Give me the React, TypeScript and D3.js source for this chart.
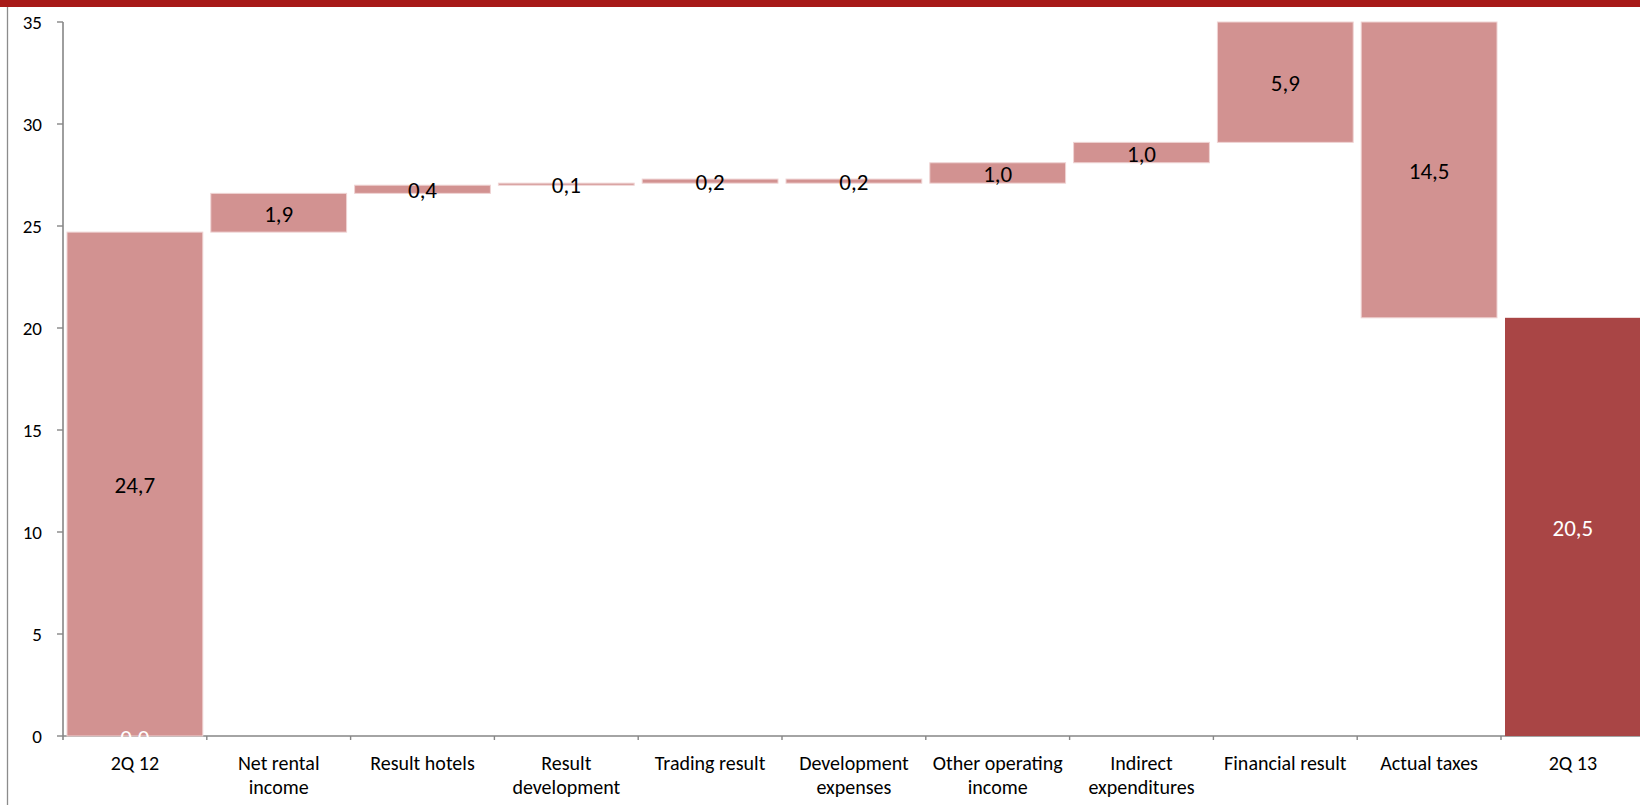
import React from "react";
import * as d3 from "d3";

// Bridge from 2Q 12 to 2Q 13 result (EUR m)
const categories: string[][] = [
  ["2Q 12"],
  ["Net rental", "income"],
  ["Result hotels"],
  ["Result", "development"],
  ["Trading result"],
  ["Development", "expenses"],
  ["Other operating", "income"],
  ["Indirect", "expenditures"],
  ["Financial result"],
  ["Actual taxes"],
  ["2Q 13"],
];
const deltas: number[] = [24.7, 1.9, 0.4, 0.1, 0.2, -0.2, 1.0, 1.0, 5.9, -14.5, 20.5];
const isTotal: boolean[] = [true, false, false, false, false, false, false, false, false, false, true];
const yTicks: number[] = [0, 5, 10, 15, 20, 25, 30, 35];

const W = 1640;
const H = 805;
const FONT = "Calibri, Carlito, Lato, 'Open Sans', sans-serif";

const axisLeft = 63;
const step = 143.8;
const x = d3
  .scaleBand<number>()
  .domain(d3.range(categories.length))
  .range([axisLeft, axisLeft + step * categories.length])
  .padding(0);
const y = d3.scaleLinear().domain([0, 35]).range([736, 22]);

const fmt = (v: number) => d3.format(".1f")(Math.abs(v)).replace(".", ",");

type Seg = { i: number; lo: number; hi: number; delta: number; total: boolean };
const segs: Seg[] = (() => {
  let run = 0;
  return deltas.map((d, i) => {
    if (isTotal[i]) {
      run = d;
      return { i, lo: 0, hi: d, delta: d, total: true };
    }
    const start = run;
    run = run + d;
    return { i, lo: Math.min(start, run), hi: Math.max(start, run), delta: d, total: false };
  });
})();

export default function App() {
  const inset = 4;
  const bw = x.bandwidth() - inset * 2;
  const last = categories.length - 1;
  return (
    <svg
      width={W}
      height={H}
      style={{ position: "absolute", left: 0, top: 0, background: "#fff" }}
      fontFamily={FONT}
    >
      {/* header band and left frame line */}
      <rect x={0} y={0} width={W} height={7} fill="#A71A18" />
      <line x1={7.5} x2={7.5} y1={7} y2={H} stroke="#8c8c8c" strokeWidth={1.3} />

      {/* y axis */}
      <line x1={axisLeft} x2={axisLeft} y1={y(35)} y2={y(0) + 4} stroke="#868686" strokeWidth={1.6} />
      {yTicks.map((t) => (
        <g key={t}>
          <line x1={axisLeft - 6} x2={axisLeft} y1={y(t)} y2={y(t)} stroke="#868686" strokeWidth={1.4} />
          <text x={42} y={y(t)} textAnchor="end" dominantBaseline="central" fontSize={19} fill="#000">
            {t}
          </text>
        </g>
      ))}

      {/* x axis */}
      <line x1={axisLeft} x2={W} y1={y(0)} y2={y(0)} stroke="#868686" strokeWidth={1.6} />
      {d3.range(1, categories.length).map((i) => (
        <line
          key={i}
          x1={x(i)!}
          x2={x(i)!}
          y1={y(0)}
          y2={y(0) + 4}
          stroke="#868686"
          strokeWidth={1.4}
        />
      ))}

      {/* bars */}
      {segs.map((s) => {
        const dark = s.i === last;
        return (
          <rect
            key={s.i}
            x={x(s.i)! + inset}
            y={y(s.hi)}
            width={bw}
            height={Math.max(y(s.lo) - y(s.hi), 1)}
            fill={dark ? "#A94545" : "#D29291"}
            stroke={dark ? "none" : "#EFD3D3"}
            strokeWidth={1}
          />
        );
      })}

      {/* hidden base label at the foot of the first bar */}
      <text
        x={x(0)! + x.bandwidth() / 2}
        y={y(0) + 2}
        textAnchor="middle"
        dominantBaseline="central"
        fontSize={23}
        fill="#fff"
      >
        {fmt(0)}
      </text>

      {/* value labels */}
      {segs.map((s) => (
        <text
          key={s.i}
          x={x(s.i)! + x.bandwidth() / 2}
          y={(y(s.lo) + y(s.hi)) / 2 + 1}
          textAnchor="middle"
          dominantBaseline="central"
          fontSize={23}
          fill={s.i === last ? "#fff" : "#000"}
        >
          {fmt(s.delta)}
        </text>
      ))}

      {/* category labels */}
      {categories.map((lines, i) => (
        <text key={i} x={x(i)! + x.bandwidth() / 2} textAnchor="middle" fontSize={20} fill="#000">
          {lines.map((ln, k) => (
            <tspan key={k} x={x(i)! + x.bandwidth() / 2} y={770 + k * 24}>
              {ln}
            </tspan>
          ))}
        </text>
      ))}
    </svg>
  );
}
